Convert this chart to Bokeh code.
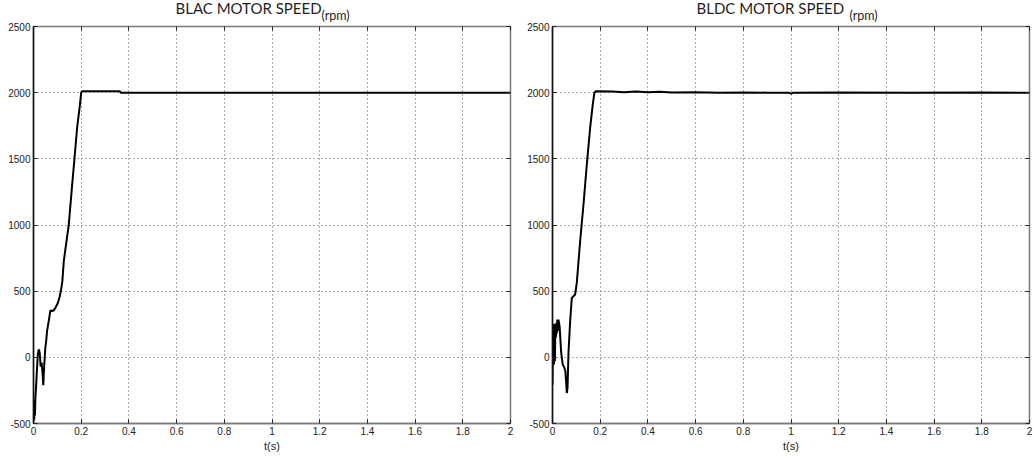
from bokeh.plotting import figure
from bokeh.layouts import row
from bokeh.models import LinearAxis, Range1d, FixedTicker, Title
from bokeh.embed import file_html
from bokeh.resources import INLINE

# ---- data ----
x_ticks = [0, 0.2, 0.4, 0.6, 0.8, 1.0, 1.2, 1.4, 1.6, 1.8, 2.0]
x_tick_labels = ["0", "0.2", "0.4", "0.6", "0.8", "1", "1.2", "1.4", "1.6", "1.8", "2"]
y_ticks = [-500, 0, 500, 1000, 1500, 2000, 2500]
y_tick_labels = ["-500", "0", "500", "1000", "1500", "2000", "2500"]

blac_t = [0, 0.002, 0.003, 0.005, 0.006, 0.008, 0.010, 0.014, 0.018, 0.022, 0.026,
          0.030, 0.034, 0.038, 0.041, 0.045, 0.049, 0.053, 0.057, 0.064, 0.071,
          0.078, 0.085, 0.092, 0.102, 0.110, 0.117, 0.121, 0.127, 0.137, 0.148,
          0.161, 0.171, 0.183, 0.195, 0.200, 0.205, 0.300, 0.362, 0.366, 1.0, 2.0]
blac_v = [-485, -350, -470, -320, -440, -300, -250, -110, 20, 60, 35,
          -70, -40, -120, -210, -60, 60, 120, 200, 275, 355,
          350, 355, 375, 410, 460, 525, 576, 727, 860, 1005,
          1283, 1485, 1737, 1914, 2002, 2010, 2011, 2010, 2000, 2000, 2000]

bldc_t = [0, 0.002, 0.004, 0.006, 0.008, 0.010, 0.012, 0.014, 0.016, 0.018,
          0.020, 0.022, 0.025, 0.030, 0.0365, 0.043, 0.050, 0.054, 0.057, 0.060,
          0.063, 0.067, 0.074, 0.081, 0.088, 0.095, 0.102, 0.116, 0.130, 0.144,
          0.158, 0.169, 0.176, 0.182, 0.25, 0.30, 0.35, 0.40, 0.45, 0.50, 0.60,
          0.70, 0.80, 0.90, 0.99, 1.00, 1.01, 1.20, 1.50, 1.80, 2.0]
bldc_v = [-207, 121, 248, -55, 254, -30, 220, 150, 260, 180,
          285, 200, 285, 230, 33, -55, -80, -105, -182, -270,
          -230, 33, 273, 449, 462, 475, 566, 879, 1157, 1460,
          1737, 1914, 2002, 2010, 2008, 2004, 2009, 2003, 2006, 2001, 2004,
          2000, 2002, 2000, 2000, 1993, 2000, 2001, 2000, 2001, 2000]


def make(title_main, title_off, unit_off, t, v, b_left, b_right):
    p = figure(frame_width=477, frame_height=397,
               min_border_left=b_left, min_border_right=b_right,
               min_border_top=26, min_border_bottom=36,
               x_range=Range1d(0, 2), y_range=Range1d(-500, 2500),
               output_backend="svg", toolbar_location=None)
    p.background_fill_color = "white"
    p.border_fill_color = "white"
    p.outline_line_color = "#7a7a7a"
    p.outline_line_width = 1.5

    p.xaxis.ticker = FixedTicker(ticks=x_ticks)
    p.yaxis.ticker = FixedTicker(ticks=y_ticks)
    p.xaxis.major_label_overrides = {x: s for x, s in zip(x_ticks, x_tick_labels)}
    p.yaxis.major_label_overrides = {y: s for y, s in zip(y_ticks, y_tick_labels)}

    for ax in (p.xaxis[0], p.yaxis[0]):
        ax.major_tick_in = 4
        ax.major_tick_out = 0
        ax.minor_tick_line_color = None
        ax.major_label_text_font = "Liberation Sans"
        ax.major_label_text_font_size = "10px"
        ax.major_label_text_color = "#222222"
        ax.major_tick_line_color = "#222222"
        ax.major_label_standoff = 3
    p.yaxis.axis_line_color = "#111111"
    p.yaxis.axis_line_width = 1.5
    p.xaxis.axis_line_color = "#7a7a7a"
    p.xaxis.axis_line_width = 1.5

    p.xaxis.axis_label = "t(s)"
    p.xaxis.axis_label_text_font = "Liberation Sans"
    p.xaxis.axis_label_text_font_size = "11px"
    p.xaxis.axis_label_text_font_style = "normal"
    p.xaxis.axis_label_text_color = "#222222"
    p.xaxis.axis_label_standoff = 2

    top = LinearAxis(ticker=FixedTicker(ticks=x_ticks), major_tick_in=4, major_tick_out=0,
                     minor_tick_line_color=None, axis_line_color=None,
                     major_label_overrides={x: "" for x in x_ticks},
                     major_label_text_font_size="1px", major_label_standoff=0,
                     major_tick_line_color="#222222")
    right = LinearAxis(ticker=FixedTicker(ticks=y_ticks), major_tick_in=4, major_tick_out=0,
                       minor_tick_line_color=None, axis_line_color=None,
                       major_label_overrides={y: "" for y in y_ticks},
                       major_label_text_font_size="1px", major_label_standoff=0,
                       major_tick_line_color="#222222")
    p.add_layout(top, "above")
    p.add_layout(right, "right")

    p.xgrid.grid_line_color = "#555555"
    p.ygrid.grid_line_color = "#555555"
    p.xgrid.grid_line_dash = "1 3"
    p.ygrid.grid_line_dash = "1 3"

    p.line(t, v, line_color="black", line_width=2)

    p.add_layout(Title(text="(rpm)", align="left", offset=unit_off, standoff=8,
                       text_font="Lato", text_font_size="12.5px",
                       text_font_style="normal", text_color="#1f1f1f"), "above")
    p.add_layout(Title(text=title_main, align="left", offset=title_off, standoff=-30,
                       text_font="Lato", text_font_size="15px",
                       text_font_style="normal", text_color="#1f1f1f"), "above")
    return p


p1 = make("BLAC MOTOR SPEED", 142, 288, blac_t, blac_v, 33, 7)
p2 = make("BLDC MOTOR SPEED", 144, 297, bldc_t, bldc_v, 35, 5)
layout = row(p1, p2)

open("out.html", "w").write(file_html(layout, INLINE))
